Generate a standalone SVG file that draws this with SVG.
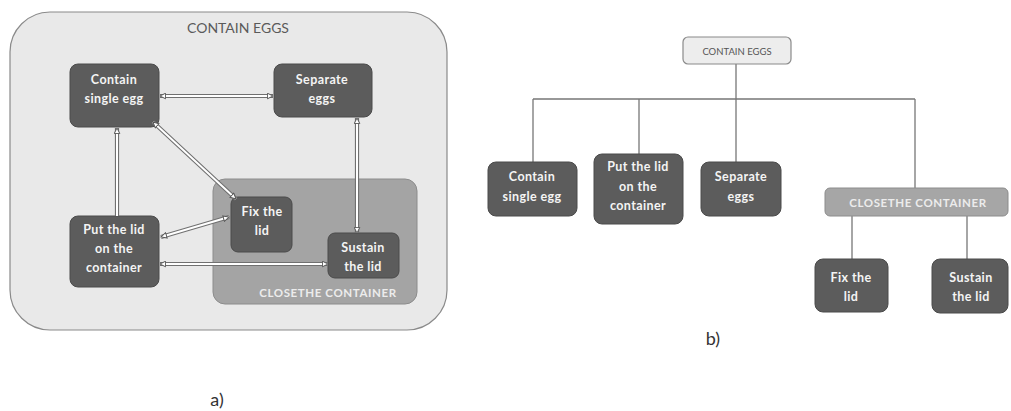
<svg xmlns="http://www.w3.org/2000/svg" width="1011" height="411" viewBox="0 0 1011 411">
<style>
.node{fill:#5c5c5c;stroke:#4a4a4a;stroke-width:1}
.t{font-family:Lato,"Open Sans",sans-serif;font-weight:bold;font-size:12.5px;fill:#f4f4f4;text-anchor:middle;letter-spacing:0.4px}
.grp{font-family:Lato,"Open Sans",sans-serif;font-weight:bold;font-size:11.5px;fill:#ececec;text-anchor:middle;letter-spacing:0.6px}
.lbl{font-family:Lato,"Open Sans",sans-serif;font-size:18px;fill:#333;text-anchor:middle}
.outer{stroke:#707070;stroke-width:4.2;fill:none}
.inner{stroke:#ffffff;stroke-width:2;fill:none}
.ar{stroke:none;fill:none;marker-start:url(#ah);marker-end:url(#ah)}
.ar1{stroke:none;fill:none;marker-start:url(#ah)}
.tree{stroke:#777;stroke-width:1.3;fill:none}
</style>
<defs>
<marker id="ah" viewBox="0 0 10 10" refX="9" refY="5" markerWidth="7" markerHeight="7" markerUnits="userSpaceOnUse" orient="auto-start-reverse">
<path d="M1,1 L9,5 L1,9 Z" fill="#ffffff" stroke="#555" stroke-width="1.4"/>
</marker>
</defs>
<rect width="1011" height="411" fill="#ffffff"/>

<g id="panel-a">
<rect x="10" y="12" width="437" height="318" rx="40" fill="#e9e9e9" stroke="#8a8a8a" stroke-width="1.2"/>
<text x="238" y="33" style="font-family:Lato,'Open Sans',sans-serif;font-size:14px;fill:#5a5a5a;text-anchor:middle">CONTAIN EGGS</text>
</g>

<g id="a-close-container">
<rect x="213" y="179" width="204" height="125" rx="12" fill="#a4a4a4" stroke="#8c8c8c" stroke-width="1"/>
<text class="grp" x="328" y="297">CLOSETHE CONTAINER</text>
</g>

<g id="a-contain-single-egg">
<rect class="node" x="70" y="64" width="89" height="63" rx="8"/>
<text class="t" x="114" y="84">Contain</text>
<text class="t" x="114" y="103">single egg</text>
</g>
<g id="a-separate-eggs">
<rect class="node" x="274" y="64" width="98" height="53" rx="8"/>
<text class="t" x="322" y="84">Separate</text>
<text class="t" x="322" y="103">eggs</text>
</g>
<g id="a-put-the-lid">
<rect class="node" x="70" y="216" width="89" height="71" rx="8"/>
<text class="t" x="114" y="234">Put the lid</text>
<text class="t" x="114" y="253">on the</text>
<text class="t" x="114" y="272">container</text>
</g>
<g id="a-fix-the-lid">
<rect class="node" x="231" y="197" width="61" height="55" rx="7"/>
<text class="t" x="262" y="216">Fix the</text>
<text class="t" x="262" y="235">lid</text>
</g>
<g id="a-sustain-the-lid">
<rect class="node" x="328" y="233" width="71" height="45" rx="7"/>
<text class="t" x="363" y="252">Sustain</text>
<text class="t" x="363" y="271">the lid</text>
</g>

<g id="a-connectors">
<path class="outer" d="M160,96 L273,96 M117,128 L117,216 M153,122 L236,199 M161,237 L229,217 M160,264 L328,264 M357,118 L357,233"/>
<path class="inner" d="M160,96 L273,96 M117,128 L117,216 M153,122 L236,199 M161,237 L229,217 M160,264 L328,264 M357,118 L357,233"/>
<path class="ar" d="M160,96 L273,96"/>
<path class="ar1" d="M117,128 L117,216"/>
<path class="ar" d="M153,122 L236,199"/>
<path class="ar" d="M161,237 L229,217"/>
<path class="ar" d="M160,264 L328,264"/>
<path class="ar" d="M357,118 L357,233"/>
</g>

<text class="lbl" x="217" y="406">a)</text>

<g id="b-connectors">
<path class="tree" d="M736,64 L736,99 M533,99 L915,99 M533,99 L533,162 M639,99 L639,154 M736,99 L736,162 M915,99 L915,188 M852,216 L852,259 M967,216 L967,259"/>
</g>

<g id="b-contain-eggs">
<rect x="683" y="37" width="108" height="27" rx="5" fill="#ededed" stroke="#8a8a8a" stroke-width="1.2"/>
<text x="737" y="55" style="font-family:Lato,'Open Sans',sans-serif;font-size:9.5px;fill:#555;text-anchor:middle">CONTAIN EGGS</text>
</g>
<g id="b-contain-single-egg">
<rect class="node" x="488" y="162" width="89" height="54" rx="8"/>
<text class="t" x="532" y="181">Contain</text>
<text class="t" x="532" y="201">single egg</text>
</g>
<g id="b-put-the-lid">
<rect class="node" x="594" y="154" width="89" height="70" rx="8"/>
<text class="t" x="638" y="171">Put the lid</text>
<text class="t" x="638" y="191">on the</text>
<text class="t" x="638" y="210">container</text>
</g>
<g id="b-separate-eggs">
<rect class="node" x="701" y="162" width="80" height="54" rx="8"/>
<text class="t" x="741" y="181">Separate</text>
<text class="t" x="741" y="201">eggs</text>
</g>
<g id="b-close-container">
<rect x="825" y="188" width="183" height="28" rx="5" fill="#a6a6a6" stroke="#8c8c8c" stroke-width="1"/>
<text class="grp" x="918" y="207">CLOSETHE CONTAINER</text>
</g>
<g id="b-fix-the-lid">
<rect class="node" x="815" y="259" width="73" height="53" rx="8"/>
<text class="t" x="851" y="282">Fix the</text>
<text class="t" x="851" y="301">lid</text>
</g>
<g id="b-sustain-the-lid">
<rect class="node" x="932" y="259" width="76" height="54" rx="8"/>
<text class="t" x="971" y="282">Sustain</text>
<text class="t" x="971" y="301">the lid</text>
</g>

<text class="lbl" x="713" y="345">b)</text>
</svg>
